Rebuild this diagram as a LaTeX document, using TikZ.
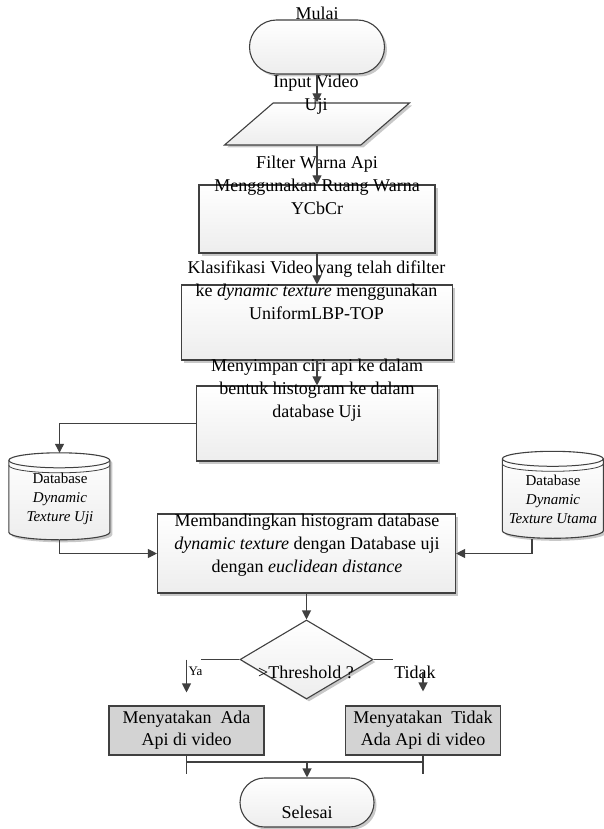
\documentclass[tikz,border=0pt]{standalone}
\usepackage{fontspec}
\setmainfont{Liberation Serif}
\usetikzlibrary{arrows.meta,shapes.geometric,shadows}
\definecolor{linegray}{HTML}{404040}
\definecolor{shadegray}{HTML}{C8C8C8}
\definecolor{boxgray}{HTML}{D3D3D3}
\begin{document}
\begin{tikzpicture}[x=1pt,y=-1pt,>={Triangle[length=9pt,width=9pt]},
  flow/.style={draw=linegray,line width=1.1pt,top color=white,bottom color=gray!14,
    drop shadow={shadow xshift=2.5pt,shadow yshift=-2.5pt,fill=shadegray,opacity=1}},
  box/.style={flow,rectangle,inner sep=0pt},
  dbbox/.style={rectangle,inner sep=0pt,minimum width=101pt,minimum height=87pt},
  hasil/.style={draw=linegray,line width=1.1pt,fill=boxgray,align=center,inner sep=0pt,
    minimum width=155pt,minimum height=49pt,font=\fontsize{18}{22}\selectfont},
  txt/.style={align=center,inner sep=0pt,font=\fontsize{18}{23}\selectfont},
  dbtxt/.style={align=center,inner sep=0pt,font=\fontsize{15}{19}\selectfont},
  link/.style={draw=linegray,line width=1.1pt}]
 \useasboundingbox (0,0) rectangle (603,829);
 % shapes
 \node[box,rounded corners=27pt,minimum width=135pt,minimum height=54pt] (mulai) at (317,47) {};
 \node[flow,trapezium,trapezium left angle=61,trapezium right angle=119,trapezium stretches=true,
   minimum width=185pt,minimum height=42pt,inner sep=2pt] (input) at (317,124) {};
 \node[box,minimum width=236pt,minimum height=68pt] (filter) at (317,219) {};
 \node[box,minimum width=271pt,minimum height=75pt] (klasifikasi) at (317,322.5) {};
 \node[box,minimum width=241pt,minimum height=75pt] (simpan) at (317,423.5) {};
 \node[dbbox] (dbuji) at (59.5,496.5) {};
 \node[dbbox] (dbutama) at (553,495) {};
 \node[box,minimum width=298pt,minimum height=79pt] (banding) at (306.5,553.5) {};
 \node[flow,diamond,minimum width=133pt,minimum height=79pt,inner sep=0pt] (threshold) at (306.5,659.5) {};
 \node[hasil] (ada) at (186.5,730.5) {Menyatakan\ \ Ada\\Api di video};
 \node[hasil] (tidakada) at (423,730.5) {Menyatakan\ \ Tidak\\Ada Api di video};
 \node[box,rounded corners=24.5pt,minimum width=134pt,minimum height=49pt] (selesai) at (307,802.5) {};
 % database cylinders
 \path[flow] (dbuji.north west) ++(0,7.5) -- ++(0,72)
   arc[start angle=180,end angle=0,x radius=50.5,y radius=7.5] -- ++(0,-72)
   arc[start angle=0,end angle=-180,x radius=50.5,y radius=7.5] -- cycle;
 \draw[linegray,line width=1pt] (dbuji.north west) ++(0,7.5)
   arc[start angle=180,end angle=0,x radius=50.5,y radius=7.5];
 \draw[linegray,line width=0.8pt] (dbuji.north west) ++(0,12.5)
   arc[start angle=180,end angle=0,x radius=50.5,y radius=7.5];
 \path[flow] (dbutama.north west) ++(0,7.5) -- ++(0,72)
   arc[start angle=180,end angle=0,x radius=50.5,y radius=7.5] -- ++(0,-72)
   arc[start angle=0,end angle=-180,x radius=50.5,y radius=7.5] -- cycle;
 \draw[linegray,line width=1pt] (dbutama.north west) ++(0,7.5)
   arc[start angle=180,end angle=0,x radius=50.5,y radius=7.5];
 \draw[linegray,line width=0.8pt] (dbutama.north west) ++(0,12.5)
   arc[start angle=180,end angle=0,x radius=50.5,y radius=7.5];
 % texts
 \node[txt] (t-mulai) at (317,13) {Mulai};
 \node[txt] (t-input) at (316,94.5) {Input Video\\Uji};
 \node[txt] (t-filter) at (317,185) {Filter Warna Api\\Menggunakan Ruang Warna\\YCbCr};
 \node[txt] (t-klasifikasi) at (316.5,290) {Klasifikasi Video yang telah difilter\\ke \textit{dynamic texture} menggunakan\\UniformLBP-TOP};
 \node[txt] (t-simpan) at (317,390) {Menyimpan ciri api ke dalam\\bentuk histogram ke dalam\\database Uji};
 \node[txt] (t-banding) at (307,545) {Membandingkan histogram database\\\textit{dynamic texture} dengan Database uji\\dengan \textit{euclidean distance}};
 \node[dbtxt] (t-dbuji) at (60,499) {Database\\\textit{Dynamic}\\\textit{Texture Uji}};
 \node[dbtxt] (t-dbutama) at (553,499) {Database\\\textit{Dynamic}\\\textit{Texture Utama}};
 \node[txt] (t-threshold) at (306,672) {>Threshold ?};
 \node[txt,font=\fontsize{13}{15}\selectfont] (t-ya) at (195.5,671) {Ya};
 \node[txt] (t-tidak) at (415,672) {Tidak};
 \node[txt] (t-selesai) at (307,812) {Selesai};
 % connectors
 \draw[link,->] (mulai.south) -- (input.north);
 \draw[link,->] (input.south) -- (filter.north);
 \draw[link,->] (filter.south) -- (klasifikasi.north);
 \draw[link,->] (klasifikasi.south) -- (simpan.north);
 \draw[link,->] (simpan.west) -| (dbuji.north);
 \draw[link,->] (dbuji.south) |- (banding.west);
 \draw[link,->] ([xshift=-21pt]dbutama.south) |- (banding.east);
 \draw[link,->] (banding.south) -- (threshold.north);
 \draw[link] (threshold.west) -- ++(-38,0);
 \draw[link,->,shorten >=13pt] (ada.north |- threshold.west) -- (ada.north);
 \draw[link] (threshold.east) -- ++(19,0);
 \draw[link,->,shorten >=14pt] (tidakada.north) ++(0,-33) -- (tidakada.north);
 \coordinate (gabung) at (307,762);
 \draw[link] (ada.south) -- ++(0,18);
 \draw[link] (tidakada.south) -- ++(0,18);
 \draw[link] (ada.south |- gabung) -- (tidakada.south |- gabung);
 \draw[link,->] (gabung) -- (selesai.north);
\end{tikzpicture}
\end{document}
